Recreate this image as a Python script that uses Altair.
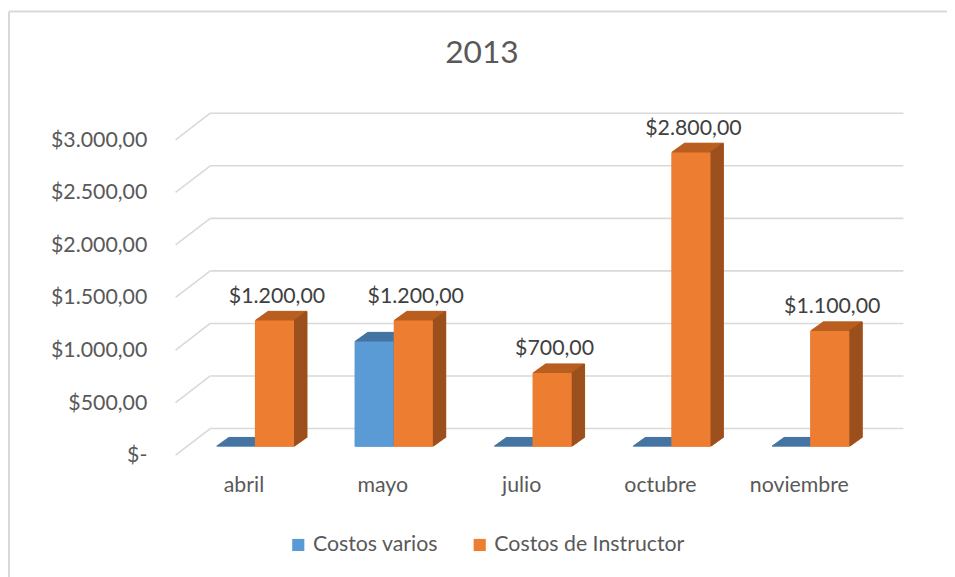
import altair as alt
import pandas as pd

# ---- data ----
meses = ["abril", "mayo", "julio", "octubre", "noviembre"]
series = ["Costos varios", "Costos de Instructor"]
costos_varios = [0, 1000, 0, 0, 0]
costos_instructor = [1200, 1200, 700, 2800, 1100]
ticks = [0, 500, 1000, 1500, 2000, 2500, 3000]
titulo = "2013"

front_col = {"Costos varios": "#5b9bd5", "Costos de Instructor": "#ed7d31"}
top_col = {"Costos varios": "#4574a3", "Costos de Instructor": "#b95f21"}
side_col = {"Costos varios": "#3a6590", "Costos de Instructor": "#9b501e"}

rows = []
for i, m in enumerate(meses):
    rows.append({"mes": m, "serie": series[0], "valor": costos_varios[i]})
    rows.append({"mes": m, "serie": series[1], "valor": costos_instructor[i]})
df = pd.DataFrame(rows)
grid_df = pd.DataFrame({"v": ticks})


def es_money(v):
    return (f"({v} == 0) ? '$-' : '$' + ({v} >= 1000 ? floor({v}/1000) + '.' + "
            f"format({v} % 1000, '03d') : format({v}, 'd')) + ',00'")


W = 39.5          # bar front width (px)
DEPTH = 13        # 3d depth steps
DYS = 0.715       # vertical shift per depth step
PLOT_W, PLOT_H = 700, 318
FS = 21.5

xenc = alt.X("mes:N", sort=meses,
             scale=alt.Scale(paddingInner=0, paddingOuter=0),
             axis=alt.Axis(title=None, domain=False, ticks=False, tickSize=0,
                           labelAngle=0, labelFont="Lato", labelFontSize=FS,
                           labelColor="#595959", labelPadding=28,
                           labelOffset=-11))
yaxis = alt.Axis(title=None, domain=False, ticks=False, tickSize=0,
                 grid=False, values=ticks, labelFont="Lato",
                 labelFontSize=FS, labelColor="#595959",
                 labelPadding=39, labelOffset=9,
                 labelExpr=es_money("datum.value"))
yscale = alt.Scale(domain=[0, 3000], nice=False)
yenc = alt.Y("valor:Q", scale=yscale, axis=yaxis)

base = alt.Chart(df)

# grid: back wall lines and floor-side slants
yg = alt.Y("v:Q", scale=yscale, axis=yaxis)
grid_back = alt.Chart(grid_df).mark_rule(
    color="#d9d9d9", strokeWidth=1.6, yOffset=-18.3, y2Offset=-18.3
).encode(y=yg, x=alt.value(25), x2=alt.value(724))
grid_slant = alt.Chart(grid_df).mark_rule(
    color="#d9d9d9", strokeWidth=1.6, yOffset=8.5, y2Offset=-18.3
).encode(y=yg, y2="v:Q", x=alt.value(-10), x2=alt.value(25))

layers = [grid_back, grid_slant]

for s, sh in [(series[0], -W / 2), (series[1], W / 2)]:
    sub = base.transform_filter(alt.datum.serie == s)
    right = sh + W / 2
    # top face: stacked shifted copies
    for k in range(DEPTH, 0, -1):
        layers.append(sub.mark_bar(
            width=W, xOffset=sh + k, yOffset=-DYS * k, y2Offset=-DYS * k,
            color=top_col[s], stroke=top_col[s], strokeWidth=1
        ).encode(x=xenc, y=yenc))
    # side face: vertical slices
    for k in range(1, DEPTH + 1):
        layers.append(sub.mark_rule(
            xOffset=right + k - 0.6, yOffset=-DYS * k, y2Offset=-DYS * k,
            color=side_col[s], strokeWidth=1.6
        ).encode(x=xenc, y=yenc, y2=alt.datum(0)))
    # front face
    layers.append(sub.mark_bar(width=W, xOffset=sh).encode(
        x=xenc, y=yenc,
        color=alt.Color("serie:N", sort=series,
                        scale=alt.Scale(domain=series,
                                        range=[front_col[series[0]], front_col[series[1]]]),
                        legend=alt.Legend(title=None, orient="none", direction="horizontal",
                                          legendX=103, legendY=406,
                                          symbolType="square", symbolSize=150,
                                          symbolStrokeWidth=0, labelFont="Lato",
                                          labelFontSize=FS, labelColor="#595959",
                                          labelLimit=400,
                                          labelOffset=4, columnPadding=31, padding=0))
    ))

# value labels for instructor costs
labels = base.transform_filter(alt.datum.serie == series[1]).transform_calculate(
    lab=es_money("datum.valor")
).mark_text(font="Lato", fontSize=FS, color="#404040", xOffset=W / 2 + 2.5,
            dy=-24, baseline="middle").encode(x=xenc, y=yenc, text="lab:N")
layers.append(labels)

# title
title_df = pd.DataFrame({"t": [titulo]})
layers.append(alt.Chart(title_df).mark_text(
    font="Lato", fontSize=32, color="#595959", baseline="middle"
).encode(text="t:N", x=alt.value(299), y=alt.value(-79)))

# chart frame (top and left edges)
frame_df = pd.DataFrame({"f": [0]})
layers.append(alt.Chart(frame_df).mark_rule(color="#d9d9d9", strokeWidth=2).encode(
    x=alt.value(-178), x2=alt.value(770), y=alt.value(-121)))
layers.append(alt.Chart(frame_df).mark_rule(color="#d9d9d9", strokeWidth=2).encode(
    x=alt.value(-178), y=alt.value(-121), y2=alt.value(450)))

chart = alt.layer(*layers).properties(
    width=PLOT_W, height=PLOT_H,
    autosize=alt.AutoSizeParams(type="none"),
    padding={"left": 179, "top": 122, "right": 68, "bottom": 129},
    background="white",
).configure_view(stroke=None)

chart.save("out.html", embed_options={"renderer": "svg", "actions": False})
